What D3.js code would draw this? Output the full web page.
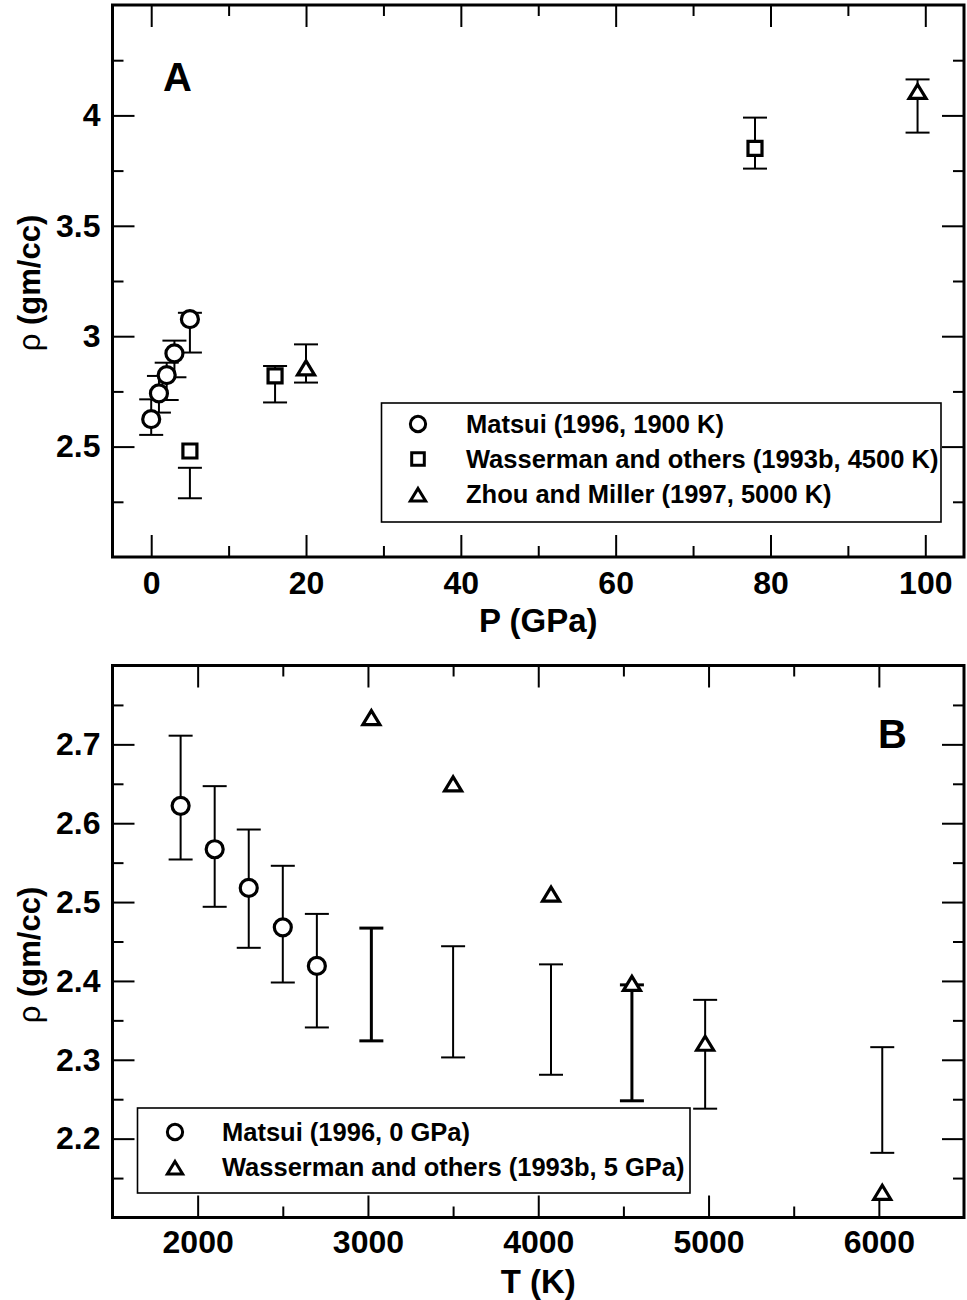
<!DOCTYPE html>
<html>
<head>
<meta charset="utf-8">
<script src="https://cdn.jsdelivr.net/npm/d3@7"></script>
<style>
  html, body { margin: 0; padding: 0; background: #fff; }
  svg text { font-family: "Liberation Sans", Arial, Helvetica, sans-serif; font-weight: bold; fill: #000; }
</style>
</head>
<body>
<svg id="fig" width="967" height="1300"></svg>
<script>
// ---- Panel A: melt density against pressure ----
const matsuiP    = [0, 1, 2, 3, 5];
const matsuiPRho = [2.624, 2.741, 2.824, 2.922, 3.077];
const matsuiPLo  = [2.553, 2.654, 2.711, 2.814, 2.926];
const matsuiPHi  = [2.714, 2.820, 2.880, 2.980, 3.106];

const wassP    = [5, 16, 78];
const wassPRho = [2.480, 2.820, 3.851];
const wassPLo  = [2.266, 2.700, 3.759];
const wassPHi  = [2.404, 2.865, 3.990];

const zhouP   = [20, 99];
const zhouRho = [2.860, 4.112];
const zhouLo  = [2.790, 3.922];
const zhouHi  = [2.963, 4.163];

// ---- Panel B: melt density against temperature ----
const matsuiT    = [1900, 2100, 2300, 2500, 2700];
const matsuiTRho = [2.622, 2.567, 2.518, 2.468, 2.419];
const matsuiTLo  = [2.554, 2.494, 2.442, 2.398, 2.341];
const matsuiTHi  = [2.711, 2.647, 2.592, 2.546, 2.485];

const wassT    = [3020, 3500, 4075, 4550, 4980, 6020];
const wassTRho = [2.735, 2.651, 2.511, 2.398, 2.322, 2.133];
const wassTLo  = [2.324, 2.303, 2.281, 2.248, 2.238, 2.182];
const wassTHi  = [2.467, 2.444, 2.421, 2.395, 2.376, 2.316];

// ---- Axis ticks and legend text ----
const pTicks       = [0, 20, 40, 60, 80, 100];
const pMinorTicks  = [10, 30, 50, 70, 90];
const rhoTicksA    = [2.5, 3, 3.5, 4];
const rhoMinorA    = [2.25, 2.75, 3.25, 3.75, 4.25];
const tTicks       = [2000, 3000, 4000, 5000, 6000];
const tMinorTicks  = [2500, 3500, 4500, 5500];
const rhoTicksB    = [2.2, 2.3, 2.4, 2.5, 2.6, 2.7];
const rhoMinorB    = [2.15, 2.25, 2.35, 2.45, 2.55, 2.65, 2.75];
const legendA = ["Matsui (1996, 1900 K)", "Wasserman and others (1993b, 4500 K)", "Zhou and Miller (1997, 5000 K)"];
const legendB = ["Matsui (1996, 0 GPa)", "Wasserman and others (1993b, 5 GPa)"];

const svg = d3.select("#fig");

// marker outlines
function markerPath(kind, s) {
  const p = d3.path();
  if (kind === "circle") {
    p.arc(0, 0, 8.5 * s, 0, 2 * Math.PI);
  } else if (kind === "square") {
    p.rect(-7 * s, -7 * s, 14 * s, 14 * s);
  } else {
    p.moveTo(0, -6.2 * s);
    p.lineTo(8.5 * s, 7.8 * s);
    p.lineTo(-8.5 * s, 7.8 * s);
    p.closePath();
  }
  return p.toString();
}

function drawPanel(cfg) {
  const x = d3.scaleLinear().domain(cfg.xDomain).range([cfg.left, cfg.right]);
  const y = d3.scaleLinear().domain(cfg.yDomain).range([cfg.bottom, cfg.top]);
  const g = svg.append("g");

  const styleAxis = (sel, w) => {
    sel.select(".domain").remove();
    sel.selectAll(".tick line").attr("stroke", "#000").attr("stroke-width", w);
    sel.selectAll(".tick text").attr("font-size", 32).attr("fill", "#000")
      .style("font-family", '"Liberation Sans", Arial, sans-serif').style("font-weight", "bold");
  };

  // major ticks with labels, minor ticks without, mirrored on all sides
  g.append("g").attr("transform", `translate(0,${cfg.bottom})`)
    .call(d3.axisBottom(x).tickValues(cfg.xTicks).tickSize(-22).tickPadding(cfg.xPad).tickFormat(d => String(d)))
    .call(s => styleAxis(s, 2));
  g.append("g").attr("transform", `translate(0,${cfg.bottom})`)
    .call(d3.axisBottom(x).tickValues(cfg.xMinor).tickSize(-11).tickFormat(""))
    .call(s => styleAxis(s, 2));
  g.append("g").attr("transform", `translate(0,${cfg.top})`)
    .call(d3.axisTop(x).tickValues(cfg.xTicks).tickSize(-22).tickFormat(""))
    .call(s => styleAxis(s, 2));
  g.append("g").attr("transform", `translate(0,${cfg.top})`)
    .call(d3.axisTop(x).tickValues(cfg.xMinor).tickSize(-11).tickFormat(""))
    .call(s => styleAxis(s, 2));
  g.append("g").attr("transform", `translate(${cfg.left},0)`)
    .call(d3.axisLeft(y).tickValues(cfg.yTicks).tickSize(-22).tickPadding(12).tickFormat(d => String(d)))
    .call(s => styleAxis(s, 2));
  g.append("g").attr("transform", `translate(${cfg.left},0)`)
    .call(d3.axisLeft(y).tickValues(cfg.yMinor).tickSize(-11).tickFormat(""))
    .call(s => styleAxis(s, 2));
  g.append("g").attr("transform", `translate(${cfg.right},0)`)
    .call(d3.axisRight(y).tickValues(cfg.yTicks).tickSize(-22).tickFormat(""))
    .call(s => styleAxis(s, 2));
  g.append("g").attr("transform", `translate(${cfg.right},0)`)
    .call(d3.axisRight(y).tickValues(cfg.yMinor).tickSize(-11).tickFormat(""))
    .call(s => styleAxis(s, 2));

  // frame
  g.append("rect")
    .attr("x", cfg.left).attr("y", cfg.top)
    .attr("width", cfg.right - cfg.left).attr("height", cfg.bottom - cfg.top)
    .attr("fill", "none").attr("stroke", "#000").attr("stroke-width", 3);

  // series: error bars first, then open markers on top
  cfg.series.forEach(s => {
    const rows = s.xs.map((v, i) => ({ x: v, v: s.vals[i], lo: s.lo[i], hi: s.hi[i], heavy: (s.heavy || []).includes(i) }));
    const eb = g.append("g").attr("stroke", "#000").attr("fill", "none");
    rows.forEach(d => {
      const cx = x(d.x);
      const bar = eb.append("g").attr("stroke-width", d.heavy ? 3 : 2);
      bar.append("line").attr("x1", cx).attr("x2", cx).attr("y1", y(d.lo)).attr("y2", y(d.hi));
      bar.append("line").attr("x1", cx - 12).attr("x2", cx + 12).attr("y1", y(d.lo)).attr("y2", y(d.lo));
      bar.append("line").attr("x1", cx - 12).attr("x2", cx + 12).attr("y1", y(d.hi)).attr("y2", y(d.hi));
    });
    g.append("g").selectAll("path").data(rows).join("path")
      .attr("d", markerPath(s.kind, 1))
      .attr("transform", d => `translate(${x(d.x)},${y(d.v)})`)
      .attr("fill", "#fff").attr("stroke", "#000").attr("stroke-width", 3.2);
  });

  // legend
  const L = cfg.legend;
  g.append("rect").attr("x", L.x).attr("y", L.y).attr("width", L.w).attr("height", L.h)
    .attr("fill", "#fff").attr("stroke", "#000").attr("stroke-width", 1.6);
  L.labels.forEach((t, i) => {
    const cy = L.rows[i];
    g.append("path").attr("d", markerPath(cfg.series[i].kind, 0.9))
      .attr("transform", `translate(${L.symX},${cy})`)
      .attr("fill", "#fff").attr("stroke", "#000").attr("stroke-width", 3);
    g.append("text").attr("x", L.textX).attr("y", cy + 9).attr("font-size", 25.5).text(t);
  });

  // panel letter
  g.append("text").attr("x", cfg.letter.x).attr("y", cfg.letter.y).attr("font-size", 40).text(cfg.letter.t);

  // axis titles
  g.append("text").attr("x", (cfg.left + cfg.right) / 2).attr("y", cfg.xTitleY)
    .attr("text-anchor", "middle").attr("font-size", 33).text(cfg.xTitle);
  const yt = g.append("text")
    .attr("transform", `translate(40,${cfg.yTitleY}) rotate(-90)`)
    .attr("text-anchor", "middle").attr("font-size", 31);
  yt.append("tspan").style("font-weight", "normal").text("ρ");
  yt.append("tspan").text(" (gm/cc)");
}

drawPanel({
  left: 112.5, right: 964, top: 5, bottom: 557,
  xDomain: [-5, 105], yDomain: [2, 4.5],
  xTicks: pTicks, xMinor: pMinorTicks, yTicks: rhoTicksA, yMinor: rhoMinorA, xPad: 14,
  series: [
    { kind: "circle",   xs: matsuiP, vals: matsuiPRho, lo: matsuiPLo, hi: matsuiPHi },
    { kind: "square",   xs: wassP,   vals: wassPRho,   lo: wassPLo,   hi: wassPHi },
    { kind: "triangle", xs: zhouP,   vals: zhouRho,    lo: zhouLo,    hi: zhouHi }
  ],
  legend: { x: 381.5, y: 403, w: 559.5, h: 119, symX: 418, textX: 466, rows: [424, 459, 494], labels: legendA },
  letter: { x: 163, y: 91, t: "A" },
  xTitle: "P (GPa)", xTitleY: 632, yTitleY: 283
});

drawPanel({
  left: 112.5, right: 964, top: 665.5, bottom: 1217.5,
  xDomain: [1500, 6500], yDomain: [2.1, 2.8],
  xTicks: tTicks, xMinor: tMinorTicks, yTicks: rhoTicksB, yMinor: rhoMinorB, xPad: 13,
  series: [
    { kind: "circle",   xs: matsuiT, vals: matsuiTRho, lo: matsuiTLo, hi: matsuiTHi },
    { kind: "triangle", xs: wassT,   vals: wassTRho,   lo: wassTLo,   hi: wassTHi, heavy: [0, 3] }
  ],
  legend: { x: 137.5, y: 1108, w: 552.5, h: 85, symX: 175, textX: 222, rows: [1132, 1167], labels: legendB },
  letter: { x: 878, y: 748, t: "B" },
  xTitle: "T (K)", xTitleY: 1293, yTitleY: 955
});
</script>
</body>
</html>
